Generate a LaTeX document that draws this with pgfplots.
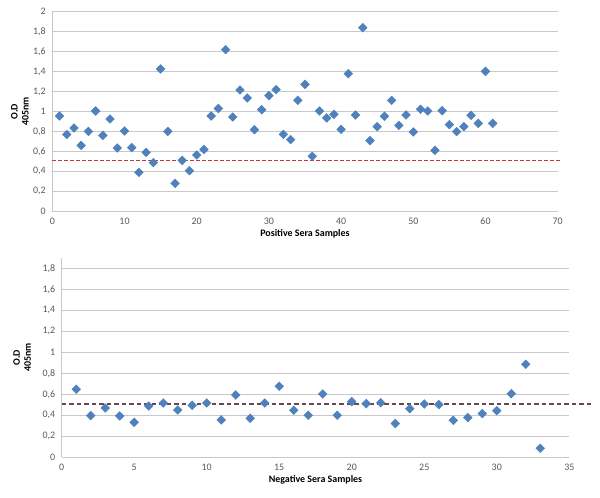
\documentclass[border=0pt]{standalone}
\usepackage{fontspec}
\setmainfont{Carlito}
\usepackage{pgfplots}
\pgfplotsset{compat=1.18}
\definecolor{mk}{RGB}{79,129,189}
\definecolor{cut}{RGB}{192,55,60}
\definecolor{cutb}{RGB}{105,70,85}
\definecolor{grd}{RGB}{200,200,200}
\definecolor{tk}{RGB}{89,89,89}
\pgfplotsset{
  base/.style={
    scale only axis,
    axis x line*=bottom, axis y line*=left,
    axis line style={grd, line width=0.9bp},
    major tick length=0pt,
    ymajorgrids, grid style={grd, line width=0.8bp},
    clip=false,
    /pgf/number format/assume math mode=true,
    /pgf/number format/use comma,
    tick label style={font=\fontsize{10}{12}\selectfont, text=tk},
    yticklabel style={xshift=-3bp},
    xticklabel style={yshift=-3bp},
    xlabel style={font=\fontsize{10}{12}\selectfont\bfseries, yshift=2bp},
    every axis y label/.style={rotate=90, anchor=center, align=center,
      font=\fontsize{10}{11}\selectfont\bfseries},
    ymin=0,
  },
  pts/.style={only marks, mark=square*, mark size=3.1bp,
    mark options={rotate=45, fill=mk, draw=mk}},
  cutl/.style={cut, line width=1.1bp, dash pattern=on 3.5bp off 2.5bp},
  cutlb/.style={cutb, line width=1.1bp, dash pattern=on 4.5bp off 3bp},
}
\begin{document}
\begin{tikzpicture}
\useasboundingbox (0,0) rectangle (600bp,498bp);
\begin{axis}[base,
  at={(52.3bp,286.7bp)}, anchor=south west,
  width=505.4bp, height=199.6bp,
  xmin=0, xmax=70, ymax=2,
  xtick={0,10,...,70}, ytick={0,0.2,...,2.01},
  yticklabels={0,{0,2},{0,4},{0,6},{0,8},1,{1,2},{1,4},{1,6},{1,8},2},
  xlabel={Positive Sera Samples},
  ylabel={O.D\\405nm},
  every axis y label/.append style={at={(axis description cs:-0.064,0.5)}},
]
\addplot[cutl] coordinates {(0,0.51) (70.45,0.51)};
\addplot[pts] coordinates {
(1,0.955) (2,0.77) (3,0.835) (4,0.66) (5,0.80) (6,1.005) (7,0.76) (8,0.925)
(9,0.634) (10,0.805) (11,0.638) (12,0.39) (13,0.59) (14,0.487) (15,1.426)
(16,0.80) (17,0.28) (18,0.51) (19,0.407) (20,0.564) (21,0.62) (22,0.955)
(23,1.03) (24,1.62) (25,0.945) (26,1.215) (27,1.135) (28,0.818) (29,1.018)
(30,1.158) (31,1.219) (32,0.771) (33,0.718) (34,1.112) (35,1.272) (36,0.551)
(37,1.005) (38,0.935) (39,0.972) (40,0.821) (41,1.379) (42,0.965) (43,1.84)
(44,0.708) (45,0.848) (46,0.952) (47,1.112) (48,0.861) (49,0.965) (50,0.795)
(51,1.022) (52,1.005) (53,0.611) (54,1.008) (55,0.868) (56,0.798) (57,0.848)
(58,0.962) (59,0.881) (60,1.402) (61,0.881)
};
\end{axis}
\begin{axis}[base,
  at={(61.7bp,40.7bp)}, anchor=south west,
  width=507.6bp, height=199.5bp,
  xmin=0, xmax=35, ymax=1.9,
  xtick={0,5,...,35}, ytick={0,0.2,...,1.81},
  yticklabels={0,{0,2},{0,4},{0,6},{0,8},1,{1,2},{1,4},{1,6},{1,8}},
  xlabel={Negative Sera Samples},
  ylabel={O.D\\405nm},
  every axis y label/.append style={at={(axis description cs:-0.078,0.5)}},
]
\addplot[cutlb] coordinates {(0,0.508) (36.55,0.508)};
\addplot[pts] coordinates {
(1,0.648) (2,0.397) (3,0.47) (4,0.394) (5,0.333) (6,0.489) (7,0.517)
(8,0.451) (9,0.495) (10,0.517) (11,0.356) (12,0.594) (13,0.371) (14,0.517)
(15,0.676) (16,0.448) (17,0.40) (18,0.603) (19,0.40) (20,0.53) (21,0.511)
(22,0.52) (23,0.321) (24,0.463) (25,0.508) (26,0.502) (27,0.352) (28,0.378)
(29,0.416) (30,0.444) (31,0.606) (32,0.886) (33,0.086)
};
\end{axis}
\end{tikzpicture}
\end{document}
